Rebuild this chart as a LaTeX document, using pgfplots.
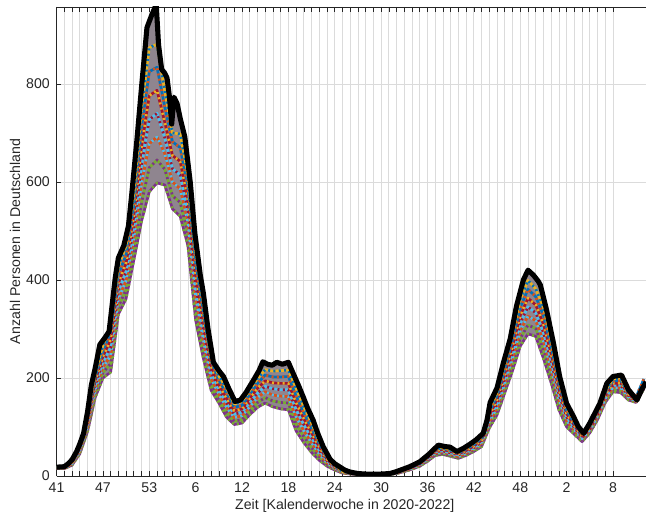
\documentclass[border=0pt]{standalone}
\usepackage{pgfplots}
\pgfplotsset{compat=1.18}
\usepgfplotslibrary{fillbetween}
\usepackage{pgfplotstable}
\usepackage{fontspec}
\setmainfont{Liberation Sans}
\definecolor{mblue}{rgb}{0,0.447,0.741}
\definecolor{morange}{rgb}{0.85,0.325,0.098}
\definecolor{myellow}{rgb}{0.929,0.694,0.125}
\definecolor{mpurple}{rgb}{0.494,0.184,0.556}
\definecolor{mgreen}{rgb}{0.466,0.674,0.188}
\definecolor{mcyan}{rgb}{0.301,0.745,0.933}
\definecolor{mred}{rgb}{0.635,0.078,0.184}
\definecolor{bandcol}{rgb}{0.56,0.52,0.56}
\definecolor{axcol}{rgb}{0.15,0.15,0.15}
\definecolor{gridcol}{rgb}{0.86,0.86,0.86}

\pgfplotstableread{
x H L c1 c2 c3 c4 c5 c6
0 18 15 15 16 16 17 17 18
1 19 15 16 16 17 17 18 18
2 33 22 24 25 27 28 30 31
3 65 45 48 51 53 56 59 62
4 130 90 96 101 107 112 118 124
5 220 160 168 177 185 194 202 210
6 278 200 211 222 233 244 255 266
7 330 212 229 245 262 278 295 311
8 445 330 346 362 378 394 411 427
9 490 362 380 398 416 434 452 470
10 600 441 463 486 508 530 552 575
11 794 520 558 597 635 673 712 750
12 930 580 629 678 727 776 825 874
13 935 598 645 692 740 787 834 881
14 822 594 626 658 690 722 754 786
15 720 545 572 600 627 654 682 700
16 730 530 558 586 614 642 670 698
17 640 470 494 518 541 565 589 613
18 485 318 341 365 388 412 435 458
19 373 240 259 277 296 314 333 352
20 262 175 187 199 212 224 236 248
21 215 149 158 167 177 186 195 204
22 190 120 130 140 149 159 169 179
23 155 105 112 119 126 133 140 147
24 160 108 115 123 130 137 144 152
25 185 125 133 142 150 159 167 175
26 210 140 150 160 169 179 189 199
27 230 149 160 172 183 194 206 217
28 228 141 153 165 178 190 202 214
29 230 137 150 163 176 189 202 215
30 232 135 149 162 176 189 203 216
31 195 92 106 121 135 150 164 179
32 155 68 80 92 105 117 129 141
33 120 48 58 68 78 88 98 108
34 80 32 39 45 52 59 66 72
35 45 20 24 27 31 34 38 41
36 25 12 14 16 17 19 21 23
37 10 6 7 7 8 8 9 9
38 8 4 5 5 6 6 7 7
39 5 3 3 4 4 4 4 5
40 4 2 2 3 3 3 3 4
41 4 2 2 3 3 3 3 4
42 4 2 2 3 3 3 3 4
43 5 3 3 4 4 4 4 5
44 9 5 6 6 7 7 8 8
45 15 9 10 11 12 12 13 14
46 21 14 15 16 17 18 19 20
47 29 20 21 23 24 25 26 28
48 43 30 32 34 35 37 39 41
49 60 42 45 47 50 52 55 57
50 61 44 46 49 51 54 56 58
51 57 40 42 45 47 50 52 54
52 52 36 38 40 43 45 47 49
53 60 42 45 47 50 52 55 57
54 70 50 53 56 58 61 64 67
55 84 60 63 67 70 73 77 80
56 145 98 105 111 118 124 131 137
57 180 125 133 140 148 156 164 171
58 240 170 180 190 199 209 219 229
59 305 215 228 240 253 265 278 291
60 378 265 281 297 312 328 344 360
61 420 290 308 326 345 363 381 399
62 400 285 301 317 333 349 366 382
63 365 240 258 275 293 310 328 345
64 295 190 205 219 234 249 264 278
65 210 135 146 156 167 177 188 198
66 148 100 107 113 120 127 134 140
67 118 85 90 94 99 103 108 113
68 90 70 73 76 78 81 84 87
69 108 88 91 94 96 99 102 105
70 140 115 119 122 126 129 133 136
71 180 150 154 158 163 167 171 175
72 203 172 176 181 185 189 194 198
73 206 170 175 180 185 190 195 200
74 176 155 158 161 164 167 170 173
75 157 150 151 152 153 154 162 156
76 185 178 179 180 181 182 198 184
}\band

\pgfplotstableread{
x y
0 18
1 19
1.5 25
2 33
2.6 50
3 65
3.5 87
4 130
4.5 185
5 220
5.6 268
6.3 283
6.8 295
7.2 350
7.6 405
8.0 445
8.7 470
9.3 510
9.7 570
10.4 686
11.0 794
11.7 915
12.3 940
12.9 962
13.2 880
13.6 830
14.0 822
14.3 812
14.6 775
14.9 718
15.2 773
15.6 760
16.0 730
16.6 692
17.3 600
17.9 495
18.6 410
19.0 373
19.6 300
20.3 232
21.0 215
21.6 203
22.3 178
23.1 152
23.8 155
24.5 170
25.5 196
26.2 215
26.7 233
27.3 228
27.9 226
28.5 232
29.2 228
30.0 232
30.6 210
31.3 185
31.9 162
32.5 138
33.2 114
33.8 87
34.5 60
35.4 34
36.0 25
36.7 18
37.3 12
38.0 8
39.0 5
40 4
41 4
42 4
43.1 5
43.8 8
44.5 12
45.7 19
47.0 29
48.3 46
49.0 57
49.4 63
50.3 60
50.9 59
51.8 50
52.6 56
53.5 65
54.3 74
55.2 87
55.7 114
56.1 150
57.0 180
57.8 230
58.7 280
59.5 346
60.4 400
61.0 420
61.7 410
62.3 398
62.6 390
63.4 339
64.3 271
65.1 203
66.0 148
66.9 121
67.5 101
68.2 87
69.0 108
70.3 148
71.2 189
72.0 203
73.1 206
74.0 176
75.1 155
75.7 176
76.3 192
}\black

\begin{document}
\begin{tikzpicture}
\begin{axis}[
  scale only axis,
  width=442.1pt, height=351.75pt,
  xmin=0, xmax=76.27, ymin=0, ymax=957,
  axis x line*=box, axis y line*=left,
  xtick={0,6,...,72},
  xticklabels={41,47,53,6,12,18,24,30,36,42,48,2,8},
  minor x tick num=5,
  ytick={0,200,400,600,800},
  xmajorgrids, xminorgrids, ymajorgrids,
  major grid style={draw=gridcol, line width=0.6pt},
  minor grid style={draw=gridcol, line width=0.6pt},
  tick align=inside,
  ytick pos=left,
  major tick length=3.6pt, minor tick length=3.6pt,
  tick style={color=axcol, line width=0.5pt},
  axis line style={color=axcol, line width=0.6pt},
  /pgf/number format/assume math mode=true,
  tick label style={font=\fontsize{10.6}{12}\selectfont, text=axcol},
  xticklabel style={yshift=-1.2pt},
  yticklabel style={xshift=-1.5pt},
  xlabel={Zeit [Kalenderwoche in 2020-2022]},
  ylabel={Anzahl Personen in Deutschland},
  label style={font=\fontsize{10.6}{12}\selectfont, text=axcol},
  xlabel style={at={(axis description cs:0.489,-0.0635)}, anchor=center},
  ylabel style={at={(axis description cs:-0.0705,0.5)}, anchor=center},
  every axis plot/.append style={line join=round},
]
\coordinate (SW) at (rel axis cs:0,0);
\coordinate (NE) at (rel axis cs:1,1);
\addplot[draw=none, name path=lo, forget plot] table[x=x,y=L]{\band};
\addplot[draw=none, name path=hi, forget plot] table[x=x,y=y]{\black};
\addplot[fill=bandcol, draw=none, forget plot] fill between[of=hi and lo];
\addplot[mpurple, line width=2pt] table[x=x,y=L]{\band};
\addplot[mgreen, line width=2pt, dash pattern=on 1.5pt off 2.5pt] table[x=x,y=L]{\band};
\addplot[mgreen, line width=2pt] table[x=x,y=c1]{\band};
\addplot[mpurple, line width=2pt, dash pattern=on 1.5pt off 2.5pt] table[x=x,y=c1]{\band};
\addplot[morange, line width=2pt] table[x=x,y=c2]{\band};
\addplot[mcyan, line width=2pt, dash pattern=on 1.5pt off 2.5pt] table[x=x,y=c2]{\band};
\addplot[mcyan, line width=2pt] table[x=x,y=c3]{\band};
\addplot[mred, line width=2pt, dash pattern=on 1.5pt off 2.5pt] table[x=x,y=c3]{\band};
\addplot[mred, line width=2pt] table[x=x,y=c4]{\band};
\addplot[myellow, line width=2pt, dash pattern=on 1.5pt off 2.5pt] table[x=x,y=c4]{\band};
\addplot[mblue, line width=2pt] table[x=x,y=c5]{\band};
\addplot[morange, line width=2pt, dash pattern=on 1.5pt off 2.5pt] table[x=x,y=c5]{\band};
\addplot[myellow, line width=2pt] table[x=x,y=c6]{\band};
\addplot[mblue, line width=2pt, dash pattern=on 1.5pt off 2.5pt] table[x=x,y=c6]{\band};
\addplot[black, line width=3.8pt] table[x=x,y=y]{\black};
\end{axis}
\pgfresetboundingbox
\path[use as bounding box] ([shift={(-42.4pt,-28.5pt)}]SW) rectangle ([shift={(0pt,5.25pt)}]NE);
\end{tikzpicture}
\end{document}
